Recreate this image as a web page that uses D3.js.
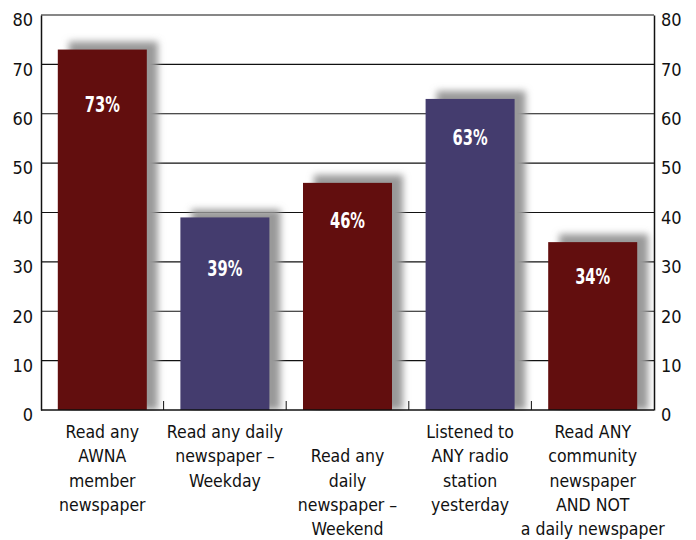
<!DOCTYPE html>
<html><head><meta charset="utf-8">
<script src="https://cdn.jsdelivr.net/npm/d3@7"></script>
<style>
body{margin:0;background:#fff;}
text{font-family:"Liberation Sans Narrow","Arial Narrow","DejaVu Sans Condensed",sans-serif;}
</style>
</head><body>
<svg id="c" width="696" height="540"></svg>
<script>
const categories = [
  ["Read any","AWNA","member","newspaper"],
  ["Read any daily","newspaper –","Weekday"],
  ["Read any","daily","newspaper –","Weekend"],
  ["Listened to","ANY radio","station","yesterday"],
  ["Read ANY","community","newspaper","AND NOT","a daily newspaper"]
];
const values = [73, 39, 46, 63, 34];
const valueLabels = ["73%","39%","46%","63%","34%"];
const colors = ["#620e0e","#443c6e","#620e0e","#443c6e","#620e0e"];
const yTicks = [0,10,20,30,40,50,60,70,80];
// layout tweaks (pixels)
const labelOffsets = [54, 51, 37, 38, 34];
const catLineShift = [0, 0, 1, 0, 0];

const svg = d3.select("#c");
const m = {l:41, r:654, t:15, b:410};
const x = d3.scaleBand().domain(d3.range(values.length)).range([m.l, m.r]).paddingInner(0.274).paddingOuter(0.137);
const y = d3.scaleLinear().domain([0,80]).range([m.b, m.t]);

const defs = svg.append("defs");
defs.append("filter").attr("id","blur").attr("x","-30%").attr("y","-30%").attr("width","160%").attr("height","160%")
  .append("feGaussianBlur").attr("stdDeviation",3.5);

// gridlines
svg.append("g").selectAll("line").data(yTicks.filter(d=>d>0)).join("line")
  .attr("x1",m.l).attr("x2",m.r).attr("y1",d=>y(d)).attr("y2",d=>y(d))
  .attr("stroke","#111").attr("stroke-width",1.2);

// shadows
svg.append("g").attr("filter","url(#blur)").selectAll("rect").data(values).join("rect")
  .attr("x",(d,i)=>x(i)+11).attr("y",d=>y(d)-8)
  .attr("width",x.bandwidth()).attr("height",d=>m.b-y(d)+8)
  .attr("fill","#999");

// cover below axis
svg.append("rect").attr("x",0).attr("y",m.b+1).attr("width",696).attr("height",130).attr("fill","#fff");

// bars
svg.append("g").selectAll("rect").data(values).join("rect")
  .attr("x",(d,i)=>x(i)).attr("y",d=>y(d))
  .attr("width",x.bandwidth()).attr("height",d=>m.b-y(d))
  .attr("fill",(d,i)=>colors[i]);

// value labels
svg.append("g").selectAll("text").data(values).join("text")
  .attr("x",(d,i)=>x(i)+x.bandwidth()/2).attr("y",(d,i)=>y(d)+labelOffsets[i]+8)
  .attr("text-anchor","middle").attr("fill","#fff").attr("font-weight","bold")
  .attr("font-size",22).text((d,i)=>valueLabels[i])
  .each(function(){ const w=this.getComputedTextLength(); d3.select(this).attr("textLength",w*0.74).attr("lengthAdjust","spacingAndGlyphs"); });

// axes
const left = svg.append("g").attr("transform",`translate(${m.l},0)`)
  .call(d3.axisLeft(y).tickValues(yTicks).tickSize(0).tickPadding(8));
const right = svg.append("g").attr("transform",`translate(${m.r},0)`)
  .call(d3.axisRight(y).tickValues(yTicks).tickSize(0).tickPadding(7));
[left,right].forEach(g=>{
  g.select(".domain").attr("stroke","#111").attr("stroke-width",1.5);
  g.selectAll("text").attr("font-size",18).attr("fill","#111").attr("dy","0.6em")
   .style("font-family",'"Liberation Sans Narrow","Arial Narrow","DejaVu Sans Condensed",sans-serif');
});

// bottom axis line
svg.append("line").attr("x1",m.l).attr("x2",m.r).attr("y1",m.b).attr("y2",m.b)
  .attr("stroke","#111").attr("stroke-width",1.5);
// band separator ticks
const bounds = d3.range(1, values.length).map(i => (x(i-1)+x.bandwidth() + x(i))/2);
svg.append("g").selectAll("line").data(bounds).join("line")
  .attr("x1",d=>d).attr("x2",d=>d).attr("y1",m.b).attr("y2",m.b-9)
  .attr("stroke","#111").attr("stroke-width",1);

// category labels
const cg = svg.append("g");
categories.forEach((lines,i)=>{
  const t = cg.append("text").attr("x",x(i)+x.bandwidth()/2).attr("text-anchor","middle")
    .attr("font-size",17.5).attr("fill","#111");
  lines.forEach((ln,j)=>{
    t.append("tspan").attr("x",x(i)+x.bandwidth()/2).attr("y",438+24.3*(j+catLineShift[i])).text(ln);
  });
});
</script>
</body></html>
